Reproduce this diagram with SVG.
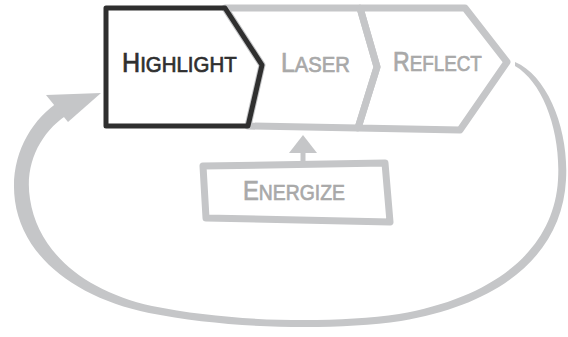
<svg xmlns="http://www.w3.org/2000/svg" width="568" height="337" viewBox="0 0 568 337">
<style>
.g{fill:none;stroke:#c5c6c8;stroke-width:7;stroke-linejoin:round;stroke-linecap:round}
.k{fill:none;stroke:#2f2f2f;stroke-width:5;stroke-linejoin:round;stroke-linecap:round}
.fg{fill:#c5c6c8}
.t{font-family:"Liberation Sans","DejaVu Sans",sans-serif;font-size:22px;stroke-width:0.7}
.tg{fill:#a9a9a9;stroke:#a9a9a9}
.tk{fill:#2f2f2f;stroke:#2f2f2f}
.big{font-size:27px}
</style>
<rect width="568" height="337" fill="#ffffff"/>
<g id="connectors">
<path class="fg" d="M 515 62 C 548 76, 569 130, 566 180 C 562 253, 503 304, 401 321 C 331 331, 230 329, 149 313 C 77 298, 23 258, 15 201 C 9 158, 30 120, 60 101 L 70 113 C 42 130, 24 162, 30 199 C 38 252, 84 291, 152 306 C 231 322, 330 324, 399 314 C 497 297, 554 248, 558 180 C 561 132, 543 82, 515 66 Z"/>
<polygon class="fg" points="101,93 46,95 68,122"/>
<line x1="303" y1="166" x2="303" y2="148" stroke="#c5c6c8" stroke-width="5"/>
<polygon class="fg" points="303,135 289,153 317,153"/>
</g>
<g id="laser">
<polygon class="g" points="225,8 360,8 377,67 358,128 248,126 262,65"/>
<text class="t tg" transform="translate(281,72) scale(0.92,1)"><tspan class="big">L</tspan>ASER</text>
</g>
<g id="reflect">
<polygon class="g" points="360,8 465,8 507,62 460,130 358,128 377,67"/>
<text class="t tg" transform="translate(393,71) scale(0.856,1)"><tspan class="big">R</tspan>EFLECT</text>
</g>
<g id="highlight">
<polygon class="k" points="106,8 225,8 262,65 248,126 106,126"/>
<text class="t tk" transform="translate(122,72) scale(0.93,1)"><tspan class="big">H</tspan>IGHLIGHT</text>
</g>
<g id="energize">
<polygon class="g" points="203,166 385,163 390,222 206,218"/>
<text class="t tg" transform="translate(243,200) scale(0.88,1)"><tspan class="big">E</tspan>NERGIZE</text>
</g>
</svg>
